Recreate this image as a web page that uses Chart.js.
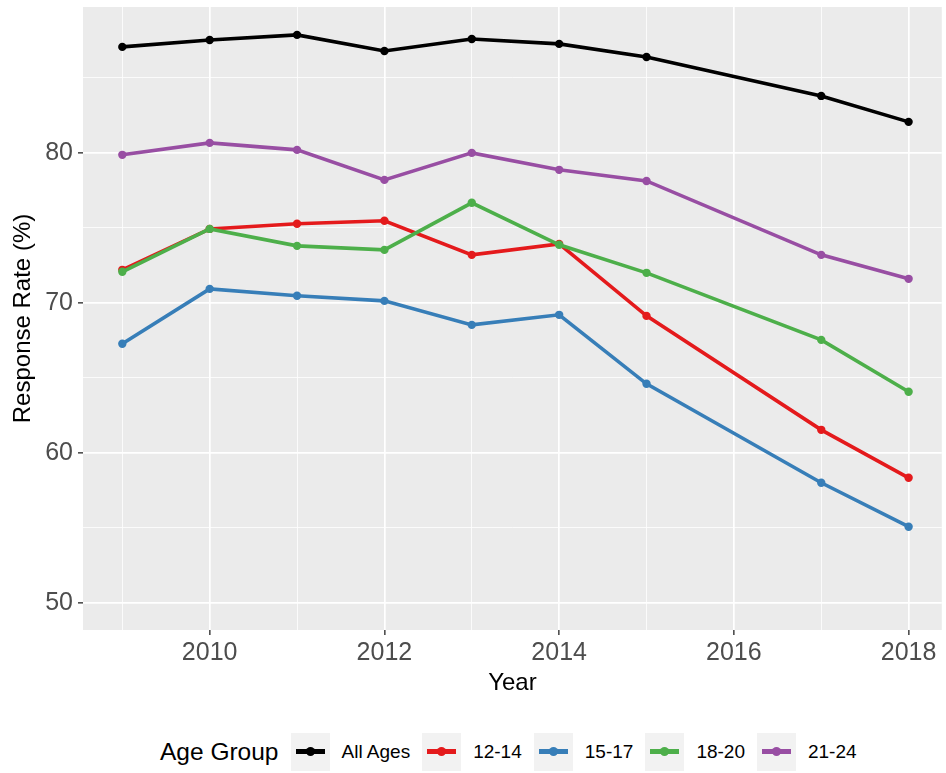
<!DOCTYPE html>
<html>
<head>
<meta charset="utf-8">
<script src="https://cdn.jsdelivr.net/npm/chart.js@4/dist/chart.umd.min.js"></script>
<style>
  body { margin: 0; background: #fff; font-family: "Liberation Sans", Arial, sans-serif; }
  #wrap { position: relative; width: 946px; height: 773px; overflow: hidden; }
  #chartBox { position: absolute; left: 0; top: 0; width: 946px; height: 700px; }
  #legend { position: absolute; top: 733px; left: 160px; height: 38px; display: flex; align-items: center; gap: 12px; }
  #legend .ttl { font-size: 24.5px; color: #000; }
  #legend .key { position: relative; width: 39px; height: 38px; background: #F2F2F2; }
  #legend .key .ln { position: absolute; left: 5px; top: 16px; width: 29px; height: 5px; }
  #legend .key .dt { position: absolute; left: 15px; top: 14px; width: 9px; height: 9px; border-radius: 50%; }
  #legend .lbl { font-size: 19px; color: #000; }
</style>
</head>
<body>
<div id="wrap">
  <div id="chartBox"><canvas id="myChart"></canvas></div>
  <div id="legend"><span class="ttl">Age Group</span></div>
</div>
<script>
// data (no survey in 2016)
var years = [2009, 2010, 2011, 2012, 2013, 2014, 2015, 2017, 2018];
var groups = ["All Ages", "12-14", "15-17", "18-20", "21-24"];
var colors = ["#000000", "#E41A1C", "#377EB8", "#4DAF4A", "#984EA3"];

var allAges = [87.07, 87.53, 87.87, 86.8, 87.6, 87.27, 86.4, 83.8, 82.07];
var age12_14 = [72.2, 74.93, 75.27, 75.47, 73.2, 73.93, 69.13, 61.53, 58.33];
var age15_17 = [67.27, 70.93, 70.47, 70.13, 68.53, 69.2, 64.6, 58.0, 55.07];
var age18_20 = [72.07, 74.93, 73.8, 73.53, 76.67, 73.87, 72.0, 67.53, 64.07];
var age21_24 = [79.87, 80.67, 80.2, 78.2, 80.0, 78.87, 78.13, 73.2, 71.6];

var xTicks = [2009, 2010, 2011, 2012, 2013, 2014, 2015, 2016, 2017, 2018];
var yTicks = [50, 55, 60, 65, 70, 75, 80, 85];

var series = [allAges, age12_14, age15_17, age18_20, age21_24];

var datasets = [];
for (var i = 0; i < series.length; i++) {
  var pts = [];
  for (var j = 0; j < years.length; j++) {
    pts.push({ x: years[j], y: series[i][j] });
  }
  datasets.push({
    label: groups[i],
    data: pts,
    borderColor: colors[i],
    backgroundColor: colors[i],
    borderWidth: 3.6,
    pointRadius: 4.2,
    pointBorderWidth: 0,
    pointBackgroundColor: colors[i],
    order: series.length - i  // later groups on top, like ggplot
  });
}

// grey panel behind the plot
const panelBg = {
  id: 'panelBg',
  beforeDraw(chart) {
    const a = chart.chartArea;
    const c = chart.ctx;
    c.save();
    c.fillStyle = '#EBEBEB';
    c.fillRect(a.left, a.top, a.right - a.left, a.bottom - a.top);
    c.restore();
  }
};

function isMajorX(v) { return v % 2 === 0; }
function isMajorY(v) { return v % 10 === 0; }

const ctx = document.getElementById('myChart');

new Chart(ctx, {
  type: 'line',
  data: { datasets: datasets },
  plugins: [panelBg],
  options: {
    responsive: true,
    maintainAspectRatio: false,
    animation: false,
    layout: { padding: { top: 7, right: 0, left: 0, bottom: 0 } },
    plugins: { legend: { display: false }, tooltip: { enabled: false } },
    scales: {
      x: {
        type: 'linear',
        min: 2008.55,
        max: 2018.38,
        afterBuildTicks: (s) => { s.ticks = xTicks.map(v => ({ value: v })); },
        afterFit: (s) => { s.height = 70; s.paddingLeft = 0; s.paddingRight = 0; },
        border: { display: false },
        grid: {
          color: '#FFFFFF',
          lineWidth: (c) => (c.tick && isMajorX(c.tick.value)) ? 1.7 : 0.8,
          tickColor: (c) => (c.tick && isMajorX(c.tick.value)) ? '#333333' : 'rgba(0,0,0,0)',
          tickWidth: 1.4,
          tickLength: 5
        },
        ticks: {
          padding: 3,
          color: '#4D4D4D',
          font: { family: '"Liberation Sans", Arial, sans-serif', size: 25 },
          maxRotation: 0,
          callback: (v) => isMajorX(v) ? String(v) : ''
        },
        title: {
          display: true,
          text: 'Year',
          color: '#000000',
          font: { family: '"Liberation Sans", Arial, sans-serif', size: 24 },
          padding: { top: 2, bottom: 2 }
        }
      },
      y: {
        min: 48.18,
        max: 89.73,
        afterBuildTicks: (s) => { s.ticks = yTicks.map(v => ({ value: v })); },
        afterFit: (s) => { s.width = 83; s.paddingTop = 0; s.paddingBottom = 0; },
        border: { display: false },
        grid: {
          color: '#FFFFFF',
          lineWidth: (c) => (c.tick && isMajorY(c.tick.value)) ? 1.7 : 0.8,
          tickColor: (c) => (c.tick && isMajorY(c.tick.value)) ? '#333333' : 'rgba(0,0,0,0)',
          tickWidth: 1.4,
          tickLength: 5
        },
        ticks: {
          padding: 5,
          color: '#4D4D4D',
          font: { family: '"Liberation Sans", Arial, sans-serif', size: 25 },
          callback: (v) => isMajorY(v) ? String(v) : ''
        },
        title: {
          display: true,
          text: 'Response Rate (%)',
          color: '#000000',
          font: { family: '"Liberation Sans", Arial, sans-serif', size: 24 },
          padding: { top: 9, bottom: 9 }
        }
      }
    }
  }
});

// legend below the plot, built from the same arrays
var legend = document.getElementById('legend');
for (var k = 0; k < groups.length; k++) {
  var key = document.createElement('span');
  key.className = 'key';
  key.innerHTML = '<span class="ln" style="background:' + colors[k] + '"></span>' +
                  '<span class="dt" style="background:' + colors[k] + '"></span>';
  var lbl = document.createElement('span');
  lbl.className = 'lbl';
  lbl.textContent = groups[k];
  legend.appendChild(key);
  legend.appendChild(lbl);
}
</script>
</body>
</html>
